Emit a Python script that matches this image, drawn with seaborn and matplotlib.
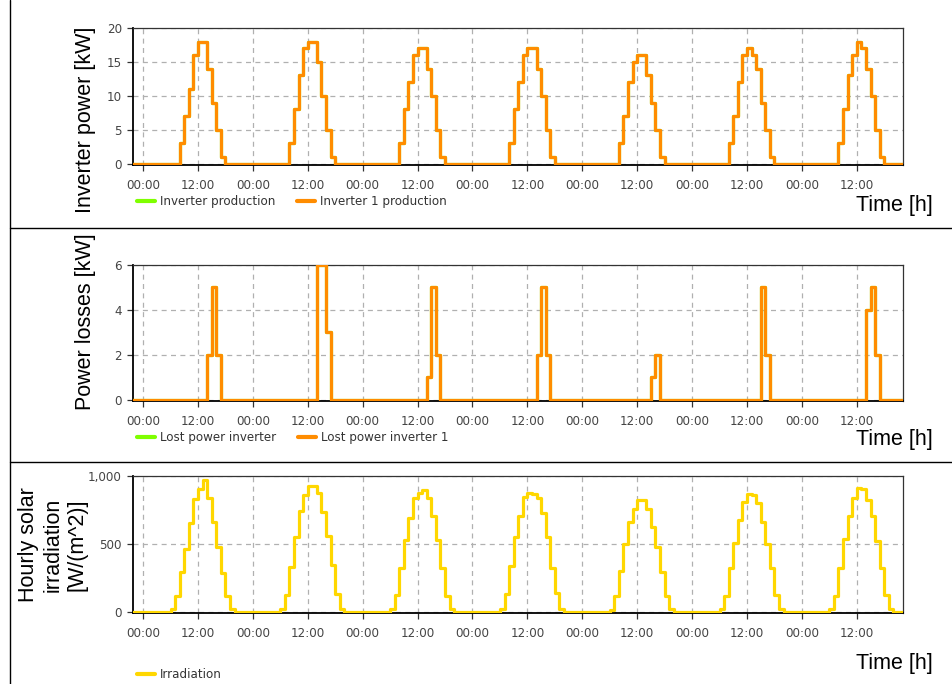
import numpy as np
import pandas as pd
import matplotlib
matplotlib.use("Agg")
import matplotlib.pyplot as plt
from matplotlib.lines import Line2D
import seaborn as sns

# ---------------------------------------------------------------------------
# Data: one week of hourly values, hour 0 = first midnight on the axis
# ---------------------------------------------------------------------------
hours = np.arange(-3, 168)

# Inverter 1 production [kW], hourly from 08:00 to 17:00 on each day
inv_start = [8, 8, 8, 8, 8, 8, 8]
inv_profiles = [
    [3, 7, 11, 16, 18, 18, 14, 9, 5, 1],
    [3, 8, 13, 17, 18, 18, 15, 10, 5, 1],
    [3, 8, 12, 16, 17, 17, 14, 10, 5, 1],
    [3, 8, 12, 16, 17, 17, 14, 10, 5, 1],
    [3, 7, 12, 15, 16, 16, 13, 9, 5, 1],
    [3, 7, 12, 16, 17, 16, 14, 9, 5, 1],
    [3, 8, 13, 16, 18, 17, 14, 10, 5, 1],
]

# Lost power of inverter 1 [kW] around mid-afternoon
loss_start = [14, 14, 14, 14, 15, 15, 14]
loss_profiles = [
    [2, 5, 2],
    [6, 6, 3],
    [1, 5, 2],
    [2, 5, 2],
    [1, 2],
    [5, 2],
    [4, 5, 2],
]

# Hourly solar irradiation [W/m^2], from 06:00
irr_start = [6, 6, 6, 6, 6, 6, 6]
irr_profiles = [
    [15, 117, 293, 459, 654, 832, 905, 971, 837, 659, 478, 283, 117, 15],
    [15, 120, 325, 548, 740, 861, 929, 929, 872, 735, 556, 340, 129, 15],
    [15, 122, 322, 527, 693, 837, 873, 893, 837, 703, 527, 322, 117, 15],
    [15, 129, 337, 549, 702, 844, 878, 868, 837, 727, 549, 322, 135, 15],
    [12, 117, 300, 495, 659, 759, 820, 820, 759, 624, 478, 288, 117, 15],
    [15, 117, 320, 502, 678, 807, 870, 861, 800, 661, 495, 320, 122, 15],
    [15, 117, 320, 532, 702, 837, 915, 905, 820, 702, 520, 324, 122, 15],
]

tick_hours = np.arange(0, 157, 12)
tick_labels = ["00:00" if h % 24 == 0 else "12:00" for h in tick_hours]

power_names = ["Inverter production", "Inverter 1 production"]
loss_names = ["Lost power inverter", "Lost power inverter 1"]
irr_names = ["Irradiation"]

GREEN = "#7FFF00"
ORANGE = "#FF8C00"
YELLOW = "#FFD700"


def hourly_series(starts, profiles):
    """Expand per-day profiles into one hourly array (zero at night)."""
    vals = np.zeros(len(hours))
    for day, (s, prof) in enumerate(zip(starts, profiles)):
        for k, v in enumerate(prof):
            vals[day * 24 + s + k - hours[0]] = v
    return vals


def long_frame(values, names, col):
    n = len(hours)
    return pd.DataFrame({
        "hour": np.tile(hours, len(names)),
        col: np.concatenate([values] * len(names)),
        "series": np.repeat(names, n),
    })


inv = hourly_series(inv_start, inv_profiles)
loss = hourly_series(loss_start, loss_profiles)
irr = hourly_series(irr_start, irr_profiles)

power_df = long_frame(inv, power_names, "kW")
loss_df = long_frame(loss, loss_names, "kW")
irr_df = long_frame(irr, irr_names, "W")

# ---------------------------------------------------------------------------
# Figure
# ---------------------------------------------------------------------------
sns.set_style("white")
plt.rcParams["font.family"] = ["DejaVu Sans"]

W, H = 953, 684
fig = plt.figure(figsize=(W / 100, H / 100), dpi=100)
fig.patch.set_facecolor("white")


def px_rect(left, top, right, bottom):
    return [left / W, 1 - bottom / H, (right - left) / W, (bottom - top) / H]


ax1 = fig.add_axes(px_rect(133, 28, 903, 165))
ax2 = fig.add_axes(px_rect(133, 265, 903, 401))
ax3 = fig.add_axes(px_rect(133, 476, 903, 613))

LW = 2.3
sns.lineplot(data=power_df, x="hour", y="kW", hue="series", hue_order=power_names,
             palette={power_names[0]: GREEN, power_names[1]: ORANGE},
             estimator=None, drawstyle="steps-post", linewidth=LW,
             legend=False, ax=ax1, zorder=3)
sns.lineplot(data=loss_df, x="hour", y="kW", hue="series", hue_order=loss_names,
             palette={loss_names[0]: GREEN, loss_names[1]: ORANGE},
             estimator=None, drawstyle="steps-post", linewidth=LW,
             legend=False, ax=ax2, zorder=3)
sns.lineplot(data=irr_df, x="hour", y="W", hue="series", hue_order=irr_names,
             palette={irr_names[0]: YELLOW},
             estimator=None, drawstyle="steps-post", linewidth=LW,
             legend=False, ax=ax3, zorder=3)


def style_axes(ax, yticks, ylabels, ymin):
    ax.set_xlim(-2.2, 166.1)
    ax.set_xticks(tick_hours, tick_labels)
    ax.set_yticks(yticks, ylabels)
    ax.set_ylim(ymin, yticks[-1])
    ax.set_xlabel("")
    ax.set_ylabel("")
    ax.grid(True, color="#b0b0b0", linestyle=(0, (4, 3.5)), linewidth=0.9)
    ax.set_axisbelow(True)
    ax.tick_params(axis="both", which="major", direction="out", length=4,
                   width=0.9, color="#333333", labelsize=8.6, labelcolor="#444444")
    ax.tick_params(axis="x", pad=6)
    ax.tick_params(axis="y", pad=4)
    ax.tick_params(left=True, bottom=True)
    for side in ("top", "right"):
        ax.spines[side].set_color("#333333")
        ax.spines[side].set_linewidth(0.9)
    for side in ("left", "bottom"):
        ax.spines[side].set_color("#000000")
        ax.spines[side].set_linewidth(1.3)


style_axes(ax1, [0, 5, 10, 15, 20], ["0", "5", "10", "15", "20"], -0.22)
style_axes(ax2, [0, 2, 4, 6], ["0", "2", "4", "6"], -0.065)
style_axes(ax3, [0, 500, 1000], ["0", "500", "1,000"], -11)

# Cell borders of the layout
fig.add_artist(Line2D([10 / W, 10 / W], [0, 1], color="black", linewidth=1.0))
for yy in (228, 462):
    fig.add_artist(Line2D([10 / W, 1], [1 - yy / H, 1 - yy / H],
                          color="black", linewidth=1.0))

# Axis titles
label_font = dict(family=["Liberation Sans", "DejaVu Sans"], fontsize=15.5,
                  color="black")
fig.text(85 / W, 1 - 120 / H, "Inverter power [kW]", rotation=90,
         ha="center", va="center", **label_font)
fig.text(85 / W, 1 - 322 / H, "Power losses [kW]", rotation=90,
         ha="center", va="center", **label_font)
fig.text(53 / W, 1 - 545 / H, "Hourly solar\nirradiation\n[W/(m^2)]", rotation=90,
         ha="center", va="center", multialignment="center", linespacing=1.2,
         **label_font)
for yy in (205, 440, 664):
    fig.text(933 / W, 1 - yy / H, "Time [h]", ha="right", va="center",
             **label_font)


# Legends under each panel
def add_legend(names, colors, y_px):
    handles = [Line2D([0], [0], color=c, linewidth=3.0) for c in colors]
    fig.legend(handles, names, loc="center left",
               bbox_to_anchor=(137 / W, 1 - y_px / H), frameon=False, ncol=len(names),
               fontsize=8.6, handlelength=1.5, handletextpad=0.4,
               columnspacing=1.85, borderpad=0, borderaxespad=0,
               labelcolor="#333333")


add_legend(power_names, [GREEN, ORANGE], 202)
add_legend(loss_names, [GREEN, ORANGE], 438)
add_legend(irr_names, [YELLOW], 675)

fig.savefig("out.png", dpi=100, facecolor="white")
